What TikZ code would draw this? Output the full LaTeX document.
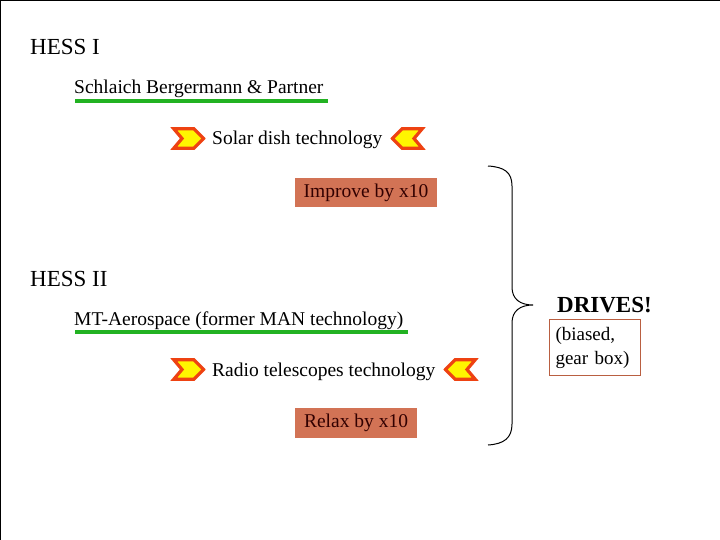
\documentclass[tikz,border=0pt]{standalone}
\usepackage{fontspec}
\setmainfont{Liberation Serif}
\definecolor{chevred}{RGB}{238,66,18}
\definecolor{chevyel}{RGB}{255,245,0}
\definecolor{ulgreen}{RGB}{34,178,34}
\definecolor{boxfill}{RGB}{210,115,85}
\definecolor{boxtext}{RGB}{50,0,0}
\definecolor{framebrown}{RGB}{185,95,65}
\tikzset{
  title/.style={anchor=base west, inner sep=0pt, font=\fontsize{23}{26}\selectfont},
  body/.style={anchor=base west, inner sep=0pt, font=\fontsize{19.5}{22}\selectfont},
  hatchbox/.style={fill=boxfill, text=boxtext, inner sep=0pt, font=\fontsize{19.5}{22}\selectfont},
  uline/.style={draw=ulgreen, line width=3.5pt},
  chevstyle/.style={draw=chevred, fill=chevyel, line width=3.2pt, line join=miter},
  pics/chevright/.style={code={
    \path[chevstyle] (1.8,1.8) -- (22,1.8) -- (31.5,11.5) -- (22,21.2) -- (1.8,21.2) -- (10,11.5) -- cycle;
  }},
  pics/chevleft/.style={code={
    \path[chevstyle] (31.2,1.8) -- (11,1.8) -- (1.5,11.5) -- (11,21.2) -- (31.2,21.2) -- (23,11.5) -- cycle;
  }}
}
\begin{document}
\begin{tikzpicture}[x=1pt,y=-1pt]
\useasboundingbox (0,0) rectangle (720,540);
\fill[white] (0,0) rectangle (720,540);
\draw[line width=1.5pt] (0,540) -- (0,0) -- (720,0);

% HESS I
\node[title] (hess1) at (30,55) {HESS I};
\node[body] (sbp) at (74,94) {Schlaich Bergermann \& Partner};
\draw[uline] (75,101) -- (328,101);
\pic at (172,127) {chevright};
\node[body] (solar) at (212,145) {Solar dish technology};
\pic at (391,127) {chevleft};
\node[hatchbox, minimum width=142pt, minimum height=29pt] (improve) at (366,192.5) {Improve by x10};

% HESS II
\node[title] (hess2) at (30,286) {HESS II};
\node[body] (mt) at (74,325) {MT-Aerospace (former MAN technology)};
\draw[uline] (75,332) -- (408,332);
\pic at (172,358) {chevright};
\node[body] (radio) at (212,376) {Radio telescopes technology};
\pic at (444,358) {chevleft};
\node[hatchbox, minimum width=122pt, minimum height=30pt] (relax) at (356,423) {Relax by x10};

% brace
\draw[line width=1pt] (488,166) .. controls (504,167) and (512,172) .. (512,186)
  -- (512,287) .. controls (512,299) and (520,305) .. (533,305)
  .. controls (520,305) and (512,311) .. (512,323)
  -- (512,424) .. controls (512,438) and (504,444) .. (488,445);

\node[anchor=base west, inner sep=0pt, font=\fontsize{23}{26}\selectfont\bfseries] (drives) at (557,312) {DRIVES!};
\node[draw=framebrown, line width=1pt, anchor=north west, inner xsep=6pt, inner ysep=4pt,
      minimum height=56pt, text width=79pt, align=left,
      font=\fontsize{19}{24}\selectfont] (biased) at (549,319) {(biased,\\gear box)};
\end{tikzpicture}
\end{document}
